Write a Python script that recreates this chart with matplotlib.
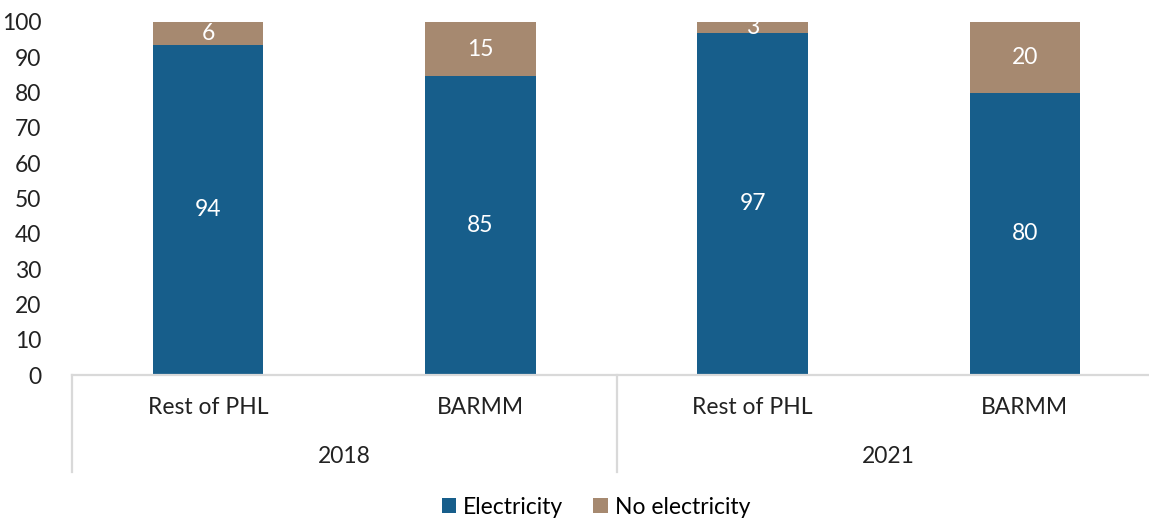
import matplotlib.pyplot as plt

plt.rcParams['font.family'] = ['Lato', 'DejaVu Sans']

regions = ["Rest of PHL", "BARMM", "Rest of PHL", "BARMM"]
years = ["2018", "2021"]
electricity = [93.5, 84.6, 96.9, 79.9]
no_electricity = [6.5, 15.4, 3.1, 20.1]

blue = "#175E8B"
tan = "#A68970"
fs = 16.5

fig = plt.figure(figsize=(11.49, 5.21), dpi=100)
ax = fig.add_axes([72 / 1149, 1 - 375 / 521, 1089 / 1149, 353 / 521])

x = list(range(len(regions)))
b1 = ax.bar(x, electricity, width=0.405, color=blue, label="Electricity")
b2 = ax.bar(x, no_electricity, width=0.405, bottom=electricity, color=tan, label="No electricity")

for i in x:
    ax.text(i, electricity[i] / 2, f"{electricity[i]:.0f}", ha="center", va="center",
            color="white", fontsize=fs)
    ax.text(i, electricity[i] + no_electricity[i] / 2, f"{no_electricity[i]:.0f}",
            ha="center", va="center", color="white", fontsize=fs)

ax.set_xlim(-0.5, 3.5)
ax.set_ylim(0, 100)
ax.set_yticks(range(0, 101, 10))
ax.tick_params(axis="y", length=0, pad=22, labelsize=fs, labelcolor="#222222")
ax.set_xticks([])

for s in ["top", "right", "left"]:
    ax.spines[s].set_visible(False)
ax.spines["bottom"].set_color("#d9d9d9")
ax.spines["bottom"].set_linewidth(1.6)

tr = ax.get_xaxis_transform()
for i in x:
    ax.text(i, -0.093, regions[i], transform=tr, ha="center", va="center",
            fontsize=fs, color="#222222")
for j, yr in enumerate(years):
    ax.text(0.5 + 2 * j, -0.232, yr, transform=tr, ha="center", va="center",
            fontsize=fs, color="#222222")
for sx in [-0.5, 1.5, 3.5]:
    ax.plot([sx, sx], [0, -0.275], transform=tr, color="#d9d9d9", lw=1.6, clip_on=False)

fig.legend(handles=[b1, b2], loc="center", bbox_to_anchor=(596 / 1149, 1 - 507 / 521),
           ncol=2, frameon=False, fontsize=fs, handlelength=0.65, handleheight=0.65,
           handletextpad=0.3, columnspacing=1.3)

fig.savefig("out.png", dpi=100)
